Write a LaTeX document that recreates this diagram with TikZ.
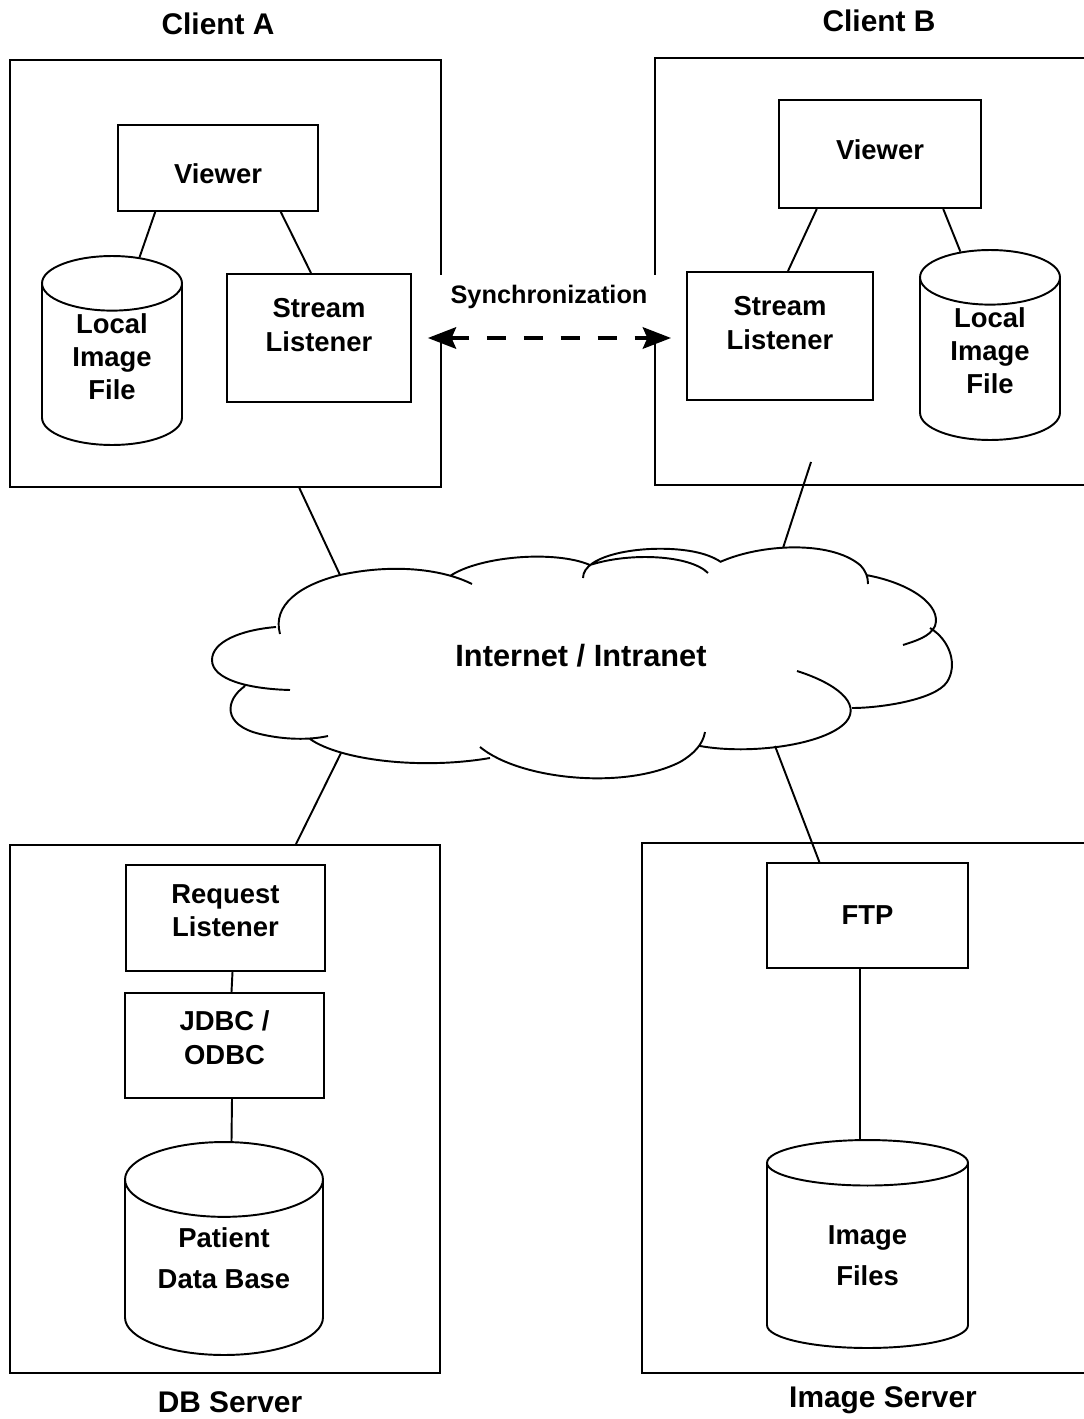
\documentclass[tikz,border=0pt]{standalone}
\usepackage{fontspec}
\setmainfont{Liberation Sans}
\usetikzlibrary{shapes.geometric,arrows.meta}

\begin{document}
\begin{tikzpicture}[x=0.02cm,y=-0.02cm,line width=1.1pt,
    every node/.style={font=\bfseries},
    hostbox/.style={rectangle,draw},
    hosttitle/.style={font=\bfseries\fontsize{17}{20}\selectfont},
    unitbox/.style={rectangle,draw,align=center,font=\bfseries\fontsize{15.6}{19.3}\selectfont},
    store/.style={cylinder,shape border rotate=90,draw,align=center,aspect=0.66,inner sep=1pt,
        anchor=shape center,text depth=13pt,font=\bfseries\fontsize{15.6}{18.7}\selectfont},
    bigstore/.style={aspect=0.55,font=\bfseries\fontsize{15.6}{23.5}\selectfont},
    link/.style={line width=1.1pt},
    syncarrow/.style={<->,>={Stealth[length=16pt,width=12pt,inset=2.5pt]},line width=2.8pt,
        dash pattern=on 11pt off 10pt,shorten <=9pt,shorten >=8.5pt}]

            \useasboundingbox (0,0) rectangle (1084,1419);
            \clip (0,0) rectangle (1084,1419);

            % machines
            \node[hostbox, minimum width=8.62cm, minimum height=8.54cm] (cA) at (225.5,273.5) {};
            \node[hostbox, minimum width=8.9cm, minimum height=8.54cm] (cB) at (877.5,271.5) {};
            \node[hostbox, minimum width=8.6cm, minimum height=10.56cm] (db) at (225,1109) {};
            \node[hostbox, minimum width=9.16cm, minimum height=10.6cm] (img) at (871,1108) {};
            \draw[white, line width=3pt] (441,275) -- (441,341);
            \draw[white, line width=3pt] (655,275) -- (655,341);

            \node[hosttitle] (tA) at (218,24) {Client A};
            \node[hosttitle] (tB) at (879,21) {Client B};
            \node[hosttitle] (tDB) at (230,1402) {DB Server};
            \node[hosttitle] (tImg) at (883,1400) {Image Server};

            % client A
            \node[unitbox, minimum width=4cm, minimum height=1.72cm, text height=18pt] (viewA) at (218,168) {Viewer};
            \node[unitbox, minimum width=3.68cm, minimum height=2.56cm, text depth=15pt] (slA) at (319,338) {Stream\\Listener};
            \node[store, minimum width=2.8cm, minimum height=3.78cm] (localA) at (112,350.5) {Local\\Image\\File};

            % client B
            \node[unitbox, minimum width=4.04cm, minimum height=2.16cm, text depth=4.5pt] (viewB) at (880,154) {Viewer};
            \node[unitbox, minimum width=3.72cm, minimum height=2.56cm, text depth=15pt] (slB) at (780,336) {Stream\\Listener};
            \node[store, minimum width=2.8cm, minimum height=3.8cm] (localB) at (990,345) {Local\\Image\\File};

            % db server
            \node[unitbox, minimum width=3.98cm, minimum height=2.12cm, text depth=8.5pt] (req) at (225.5,918) {Request\\Listener};
            \node[unitbox, minimum width=3.98cm, minimum height=2.1cm, text depth=9pt] (jdbc) at (224.5,1045.5) {JDBC /\\ODBC};
            \node[store, bigstore, minimum width=3.96cm, minimum height=4.26cm, text depth=15pt] (pdb) at (224,1248.5) {Patient\\Data Base};

            % image server
            \node[unitbox, minimum width=4.02cm, minimum height=2.1cm] (ftp) at (867.5,915.5) {FTP};
            \node[store, bigstore, minimum width=4.02cm, minimum height=4.16cm, text depth=3pt] (files) at (867.5,1244) {Image\\Files};

            % network cloud
            \draw[line width=1.1pt]
              (290,690) .. controls (250,689) and (212,680) .. (212,660)
                        .. controls (212,642) and (240,630) .. (276,627)
              (280,634) .. controls (272,605) and (300,585) .. (340,575)
                        .. controls (390,564) and (440,568) .. (472,584)
              (450,576) .. controls (480,556) and (555,550) .. (590,565)
                        .. controls (630,552) and (690,555) .. (708,573)
              (583,578) .. controls (583,555) and (640,545) .. (683,550)
                        .. controls (700,552) and (712,556) .. (721,562)
              (720,562) .. controls (760,544) and (830,540) .. (860,565)
                        .. controls (866,571) and (868,577) .. (868,584)
              (866,575) .. controls (910,583) and (942,605) .. (935,626)
                        .. controls (930,637) and (915,641) .. (903,645)
              (930,628) .. controls (950,640) and (958,665) .. (947,682)
                        .. controls (935,700) and (880,708) .. (852,708)
              (797,671) .. controls (835,683) and (862,703) .. (846,722)
                        .. controls (825,745) and (750,755) .. (700,746)
              (480,747) .. controls (520,780) and (625,790) .. (680,762)
                        .. controls (694,754) and (703,744) .. (705,732)
              (310,739) .. controls (340,760) and (420,770) .. (490,758)
              (245,686) .. controls (225,700) and (222,725) .. (260,734)
                        .. controls (285,740) and (310,740) .. (328,736);
            \node[font=\bfseries\fontsize{17.5}{20}\selectfont] (net) at (581,656) {Internet / Intranet};
            \coordinate (nA) at (340,575);
            \coordinate (nB) at (783,548);
            \coordinate (nDB) at (341,753);
            \coordinate (nImg) at (775,746);
            \coordinate (bOut) at (811,462);

            \path[link]
            (viewA.215) edge (localA.76)
            (viewA.325) edge (slA.97)
            (viewB.221) edge (slB.83)
            (viewB.319) edge (localB.105)
            ([xshift=0.14cm]req.south) edge ([xshift=0.14cm]jdbc.north)
            ([xshift=0.15cm]jdbc.south) edge ([xshift=0.15cm]pdb.north)
            ([xshift=-0.15cm]ftp.south) edge ([xshift=-0.15cm]files.north)
            (cA.289) edge (nA)
            (bOut) edge (nB)
            (db.75) edge (nDB)
            (ftp.132) edge (nImg);

            \draw[syncarrow] (slA.east) -- (slA.east -| slB.west)
              node[midway, above=12pt, font=\bfseries\fontsize{14.4}{17}\selectfont] (syncLbl) {Synchronization};

        \end{tikzpicture}
\end{document}
